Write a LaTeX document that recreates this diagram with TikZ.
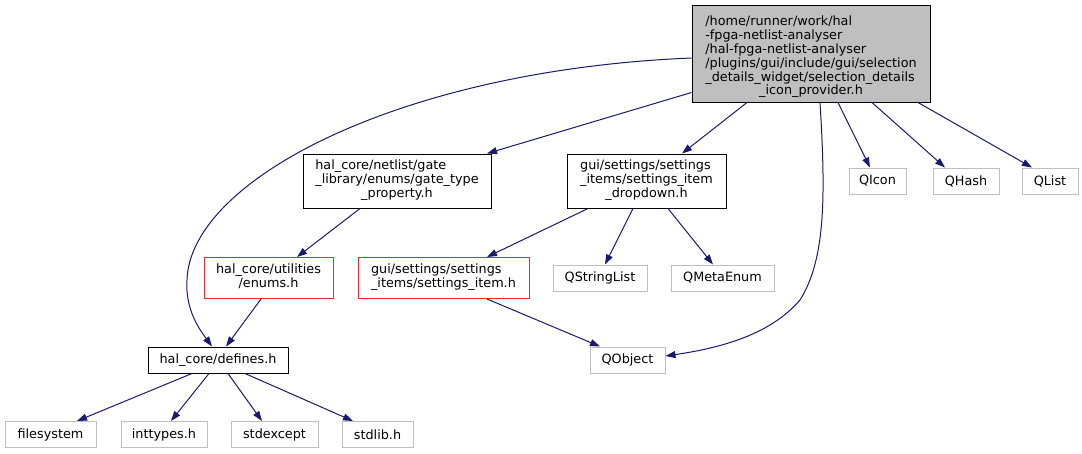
\documentclass[tikz,border=0pt]{standalone}
\usepackage{fontspec}
\setmainfont{DejaVu Sans}
\usepackage{xcolor}
\usetikzlibrary{arrows.meta}

\definecolor{edgeblue}{HTML}{191970}
\definecolor{boxgray}{HTML}{BFBFBF}
\newcommand{\flabel}[2]{\begin{tabular}{@{}l@{}}#1\\\multicolumn{1}{@{}c@{}}{#2}\end{tabular}}

\begin{document}
\begin{tikzpicture}[
  x=1pt, y=-1pt,
  file/.style={draw, line width=1pt, inner sep=0pt, minimum height=26pt, align=center, font=\fontsize{12.8}{13.7}\selectfont},
  rootfile/.style={file, fill=boxgray},
  redfile/.style={file, draw=red!85!white},
  extfile/.style={file, draw=boxgray},
  dep/.style={edgeblue, line width=1pt, -{Triangle[length=10pt,width=7pt]}},
]
  \useasboundingbox (0,0) rectangle (1082,453);

  \node[rootfile, minimum width=238pt, minimum height=97pt] (root) at (811,53.5)
    {\flabel{\rule{0pt}{17.6pt}/home/runner/work/hal\\-fpga-netlist-analyser\\/hal-fpga-netlist-analyser\\/plugins/gui/include/gui/selection\\\_details\_widget/selection\_details}{\_icon\_provider.h}};
  \node[file, minimum width=188pt, minimum height=54pt] (gate) at (397,181)
    {\flabel{hal\_core/netlist/gate\\\_library/enums/gate\_type}{\_property.h}};
  \node[file, minimum width=159pt, minimum height=54pt] (drop) at (646.5,181)
    {\flabel{gui/settings/settings\\\_items/settings\_item}{\_dropdown.h}};
  \node[extfile, minimum width=57pt] (qicon) at (877.5,181) {QIcon};
  \node[extfile, minimum width=66pt] (qhash) at (966,181) {QHash};
  \node[extfile, minimum width=56pt] (qlist) at (1050,181) {QList};
  \node[redfile, minimum width=129pt, minimum height=41pt] (enums) at (268.5,278)
    {\flabel{hal\_core/utilities}{/enums.h}};
  \node[redfile, minimum width=171pt, minimum height=41pt] (sitem) at (443.5,278)
    {\flabel{gui/settings/settings}{\_items/settings\_item.h}};
  \node[extfile, minimum width=94pt] (qsl) at (600,278) {QStringList};
  \node[extfile, minimum width=103pt] (qme) at (722.5,278) {QMetaEnum};
  \node[file, minimum width=140pt] (defines) at (218,360) {hal\_core/defines.h};
  \node[extfile, minimum width=75pt] (qobj) at (627.5,360) {QObject};
  \node[extfile, minimum width=91pt] (fs) at (50.5,434.5) {filesystem};
  \node[extfile, minimum width=86pt] (intt) at (164,434.5) {inttypes.h};
  \node[extfile, minimum width=87pt] (stde) at (274.5,434.5) {stdexcept};
  \node[extfile, minimum width=71pt] (stdl) at (377.5,434.5) {stdlib.h};

  \draw[dep] ([yshift=-4.5pt]root.west) .. controls (400,70) and (190,180) .. (187,280)
    .. controls (185,310) and (200,330) .. ([xshift=-6pt]defines.north);
  \draw[dep] ([yshift=10pt]root.south west) -- ([xshift=90pt]gate.north);
  \draw[dep] ([xshift=-64pt]root.south) -- ([xshift=35.5pt]drop.north);
  \draw[dep] ([xshift=9pt]root.south) .. controls (826,200) and (825,260) .. (800,300)
    .. controls (770,335) and (720,348) .. ([yshift=4pt]qobj.east);
  \draw[dep] ([xshift=27pt]root.south) -- ([xshift=-7.5pt]qicon.north);
  \draw[dep] ([xshift=61pt]root.south) -- ([xshift=-21pt]qhash.north);
  \draw[dep] ([xshift=107pt]root.south) -- ([xshift=-18pt]qlist.north);
  \draw[dep] ([xshift=-37pt]gate.south) -- ([xshift=28.5pt]enums.north);
  \draw[dep] ([xshift=-58.5pt]drop.south) -- ([xshift=43.5pt]sitem.north);
  \draw[dep] ([xshift=-13.5pt]drop.south) -- ([xshift=5pt]qsl.north);
  \draw[dep] ([xshift=21.5pt]drop.south) -- ([xshift=-9.5pt]qme.north);
  \draw[dep] ([xshift=43.5pt]sitem.south) -- ([xshift=-27.5pt]qobj.north);
  \draw[dep] ([xshift=-7.5pt]enums.south) -- ([xshift=8pt]defines.north);
  \draw[dep] ([xshift=-26pt]defines.south) -- ([xshift=26.5pt]fs.north);
  \draw[dep] ([xshift=-9pt]defines.south) -- ([xshift=7pt]intt.north);
  \draw[dep] ([xshift=10pt]defines.south) -- ([xshift=-12.5pt]stde.north);
  \draw[dep] ([xshift=27pt]defines.south) -- ([xshift=-24.5pt]stdl.north);
\end{tikzpicture}
\end{document}
